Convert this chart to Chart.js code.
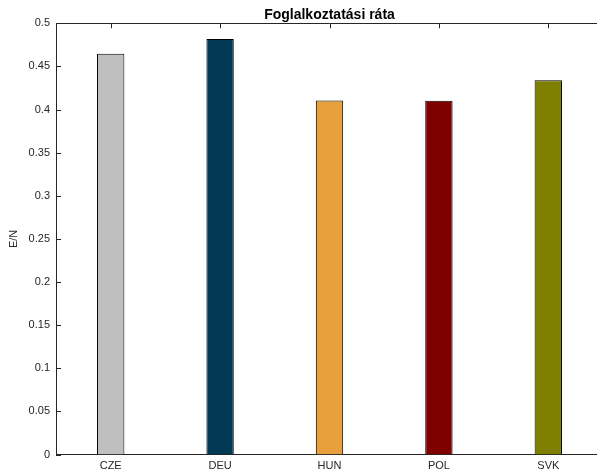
<!DOCTYPE html>
<html>
<head>
<meta charset="utf-8">
<script src="https://cdn.jsdelivr.net/npm/chart.js@4"></script>
<style>
  html, body { margin: 0; padding: 0; background: #fff; overflow: hidden; }
  #wrap { width: 597px; height: 475px; overflow: hidden; position: relative; }
  canvas { display: block; }
</style>
</head>
<body>
<div id="wrap"><canvas id="c" width="612" height="475"></canvas></div>
<script>
const categories = ['CZE', 'DEU', 'HUN', 'POL', 'SVK'];
const values = [0.4646, 0.4817, 0.4104, 0.4103, 0.4341];
const barColors = ['#bfbfbf', '#023a56', '#e8a03c', '#800000', '#808000'];
const yTicks = [0, 0.05, 0.1, 0.15, 0.2, 0.25, 0.3, 0.35, 0.4, 0.45, 0.5];
const titleText = 'Foglalkoztatási ráta';
const yLabel = 'E/N';

const axisColor = '#262626';
const font = "'Liberation Sans', Arial, Helvetica, sans-serif";

const inwardTicks = {
  id: 'inwardTicks',
  beforeDatasetsDraw(chart) {
    const { ctx, chartArea: a, scales: { x } } = chart;
    ctx.save();
    ctx.strokeStyle = axisColor;
    ctx.lineWidth = 1;
    ctx.beginPath();
    categories.forEach((c, i) => {
      const px = Math.round(x.getPixelForValue(i)) + 0.5;
      ctx.moveTo(px, a.bottom);
      ctx.lineTo(px, a.bottom - 5);
    });
    ctx.stroke();
    ctx.restore();
  },
  afterDatasetsDraw(chart) {
    const { ctx, chartArea: a, scales: { x, y } } = chart;
    ctx.save();
    ctx.strokeStyle = axisColor;
    ctx.lineWidth = 1;
    ctx.beginPath();
    yTicks.forEach(v => {
      const py = Math.round(y.getPixelForValue(v)) + 0.5;
      ctx.moveTo(a.left, py); ctx.lineTo(a.left + 5, py);
      ctx.moveTo(a.right, py); ctx.lineTo(a.right - 5, py);
    });
    categories.forEach((c, i) => {
      const px = Math.round(x.getPixelForValue(i)) + 0.5;
      ctx.moveTo(px, a.top); ctx.lineTo(px, a.top + 5);
    });
    ctx.stroke();
    ctx.beginPath();
    const t = Math.round(a.top) + 0.5, r = Math.round(a.right) + 0.5;
    ctx.moveTo(a.left, t); ctx.lineTo(r, t); ctx.lineTo(r, a.bottom);
    ctx.stroke();
    ctx.restore();
  }
};

new Chart(document.getElementById('c'), {
  type: 'bar',
  data: {
    labels: categories,
    datasets: [{
      data: values,
      backgroundColor: barColors,
      borderColor: '#000000',
      borderWidth: 1,
      barPercentage: 0.25,
      categoryPercentage: 1.0
    }]
  },
  options: {
    responsive: false,
    devicePixelRatio: 1,
    animation: false,
    layout: { padding: { left: 0, right: 9, top: 0, bottom: 0 } },
    plugins: {
      legend: { display: false },
      tooltip: { enabled: false },
      title: {
        display: true,
        text: titleText,
        fullSize: false,
        align: 'center',
        color: '#000000',
        font: { family: font, size: 14, weight: 'bold', lineHeight: 1.2 },
        padding: { top: 6.5, bottom: 0 }
      }
    },
    scales: {
      x: {
        type: 'category',
        offset: true,
        grid: { display: false, drawTicks: false },
        border: { display: true, color: axisColor, width: 1 },
        ticks: { color: axisColor, font: { family: font, size: 11 }, padding: 5, maxRotation: 0 },
        afterFit(s) { s.height = 20.5; }
      },
      y: {
        min: 0,
        max: 0.5,
        grid: { display: false, drawTicks: false },
        border: { display: true, color: axisColor, width: 1 },
        afterBuildTicks(s) { s.ticks = yTicks.map(v => ({ value: v })); },
        ticks: {
          color: axisColor,
          font: { family: font, size: 11 },
          padding: 6,
          callback: (v) => String(Math.round(v * 100) / 100)
        },
        title: {
          display: true,
          text: yLabel,
          color: axisColor,
          font: { family: font, size: 11 },
          padding: { top: 7, bottom: 0 }
        },
        afterFit(s) { s.width = 56; }
      }
    }
  },
  plugins: [inwardTicks]
});
</script>
</body>
</html>
